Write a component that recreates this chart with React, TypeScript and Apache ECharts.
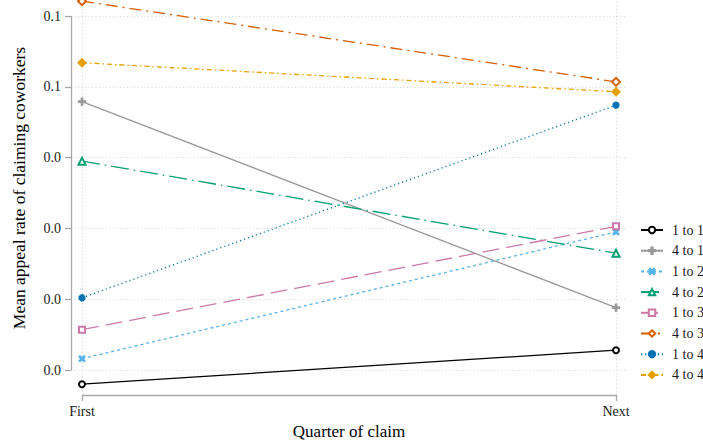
import { useEffect, useRef } from "react";
import * as echarts from "echarts";

// Quarter categories placed on a numeric x scale
const categories = ["First", "Next"];
const categoryPositions = [1, 2];

// Y ticks and their printed labels (one-decimal format)
const yTickValues = [0.01, 0.02, 0.03, 0.04, 0.05, 0.06];
const yTickLabels = ["0.0", "0.0", "0.0", "0.0", "0.1", "0.1"];

// Mean appeal rate per transition group, [First, Next]
const oneToOne = [0.008, 0.0128];
const fourToOne = [0.0479, 0.0188];
const oneToTwo = [0.0116, 0.0295];
const fourToTwo = [0.0395, 0.0265];
const oneToThree = [0.0157, 0.0303];
const fourToThree = [0.0621, 0.0507];
const oneToFour = [0.0202, 0.0474];
const fourToFour = [0.0534, 0.0493];

const X_MIN = 0.9794;
const X_MAX = 2.0206;
const Y_MIN = 0.00647;
const Y_MAX = 0.06226;

const FONT = "Liberation Serif";
const PLUS = "path://M4,0H6V4H10V6H6V10H4V6H0V4H4Z";

// Legend key placement
const LEGEND_LEFT = 640;
const LEGEND_FIRST_CENTER = 230;
const LEGEND_STEP = 20.7;
const LEGEND_LINE_HEIGHT = 14;

type Spec = {
  name: string;
  values: number[];
  color: string;
  dash: number[] | "solid";
  symbol: string;
  size: number;
  rotate?: number;
};

const specs: Spec[] = [
  { name: "1 to 1", values: oneToOne, color: "#000000", dash: "solid", symbol: "emptyCircle", size: 6 },
  { name: "4 to 1", values: fourToOne, color: "#999999", dash: "solid", symbol: PLUS, size: 7 },
  { name: "1 to 2", values: oneToTwo, color: "#56B4E9", dash: [3, 3], symbol: PLUS, size: 7, rotate: 45 },
  { name: "4 to 2", values: fourToTwo, color: "#009E73", dash: [18, 5, 1.5, 5], symbol: "emptyTriangle", size: 7 },
  { name: "1 to 3", values: oneToThree, color: "#CC79A7", dash: [17, 7], symbol: "emptyRect", size: 6 },
  { name: "4 to 3", values: fourToThree, color: "#D55E00", dash: [12, 5, 2, 5], symbol: "emptyDiamond", size: 8 },
  { name: "1 to 4", values: oneToFour, color: "#0072B2", dash: [1.2, 3], symbol: "circle", size: 6 },
  { name: "4 to 4", values: fourToFour, color: "#E69F00", dash: [5, 3, 1.5, 3], symbol: "diamond", size: 8 },
];

export default function App() {
  const ref = useRef<HTMLDivElement>(null);

  useEffect(() => {
    document.body.style.margin = "0";
    if (!ref.current) return;
    const chart = echarts.init(ref.current, undefined, { renderer: "svg" });

    const dataSeries = specs.map((s) => ({
      name: s.name,
      type: "line",
      data: categoryPositions.map((x, i) => [x, s.values[i]]),
      symbol: s.symbol,
      symbolSize: s.size,
      symbolRotate: s.rotate ?? 0,
      showSymbol: true,
      clip: false,
      z: 5,
      lineStyle: { color: s.color, width: 1.3, type: s.dash },
      itemStyle: { color: s.color, borderColor: s.color, borderWidth: 1.3 },
      emphasis: { disabled: true },
    }));

    const gridLine = {
      name: "grid",
      type: "line",
      data: [],
      z: 1,
      silent: true,
      markLine: {
        silent: true,
        symbol: "none",
        label: { show: false },
        lineStyle: { color: "#d4d4d4", width: 1, type: [1, 2.5] },
        data: [
          ...categoryPositions.map((x) => ({ xAxis: x })),
          ...yTickValues.map((y) => ({ yAxis: y })),
        ],
      },
    };

    const axisLines = {
      name: "axes",
      type: "line",
      data: [],
      z: 2,
      silent: true,
      markLine: {
        silent: true,
        symbol: "none",
        label: { show: false },
        lineStyle: { color: "#a8a8a8", width: 1.3, type: "solid" },
        data: [
          [
            { coord: [X_MIN, yTickValues[0]] },
            { coord: [X_MIN, yTickValues[yTickValues.length - 1]] },
          ],
          [
            { coord: [categoryPositions[0], Y_MIN] },
            { coord: [categoryPositions[categoryPositions.length - 1], Y_MIN] },
          ],
        ],
      },
    };

    // One legend block per series keeps the key rows evenly spaced
    const legends = specs.map((s, i) => ({
      orient: "vertical",
      left: LEGEND_LEFT,
      top: LEGEND_FIRST_CENTER + i * LEGEND_STEP - LEGEND_LINE_HEIGHT / 2,
      padding: 0,
      itemWidth: 22,
      itemHeight: 8,
      data: [s.name],
      textStyle: {
        fontFamily: FONT,
        fontSize: 14,
        color: "#1a1a1a",
        lineHeight: LEGEND_LINE_HEIGHT,
        overflow: "none",
        padding: [0, 0, 0, 4],
      },
      selectedMode: false,
    }));

    chart.setOption({
      animation: false,
      backgroundColor: "#ffffff",
      textStyle: { fontFamily: FONT },
      grid: { left: 71, right: 76, top: 0, bottom: 50, containLabel: false, outerBoundsMode: "none" },
      xAxis: {
        type: "value",
        min: X_MIN,
        max: X_MAX,
        name: "Quarter of claim",
        nameLocation: "middle",
        nameGap: 28,
        nameTextStyle: { fontFamily: FONT, fontSize: 17, color: "#000" },
        axisLine: { show: false },
        splitLine: { show: false },
        axisTick: {
          show: true,
          length: 6,
          customValues: categoryPositions,
          lineStyle: { color: "#a8a8a8", width: 1.3 },
        },
        axisLabel: {
          show: true,
          customValues: categoryPositions,
          margin: 9,
          fontFamily: FONT,
          fontSize: 14,
          color: "#1a1a1a",
          formatter: (v: number) => {
            const i = categoryPositions.findIndex((p) => Math.abs(p - v) < 1e-6);
            return i >= 0 ? categories[i] : "";
          },
        },
      },
      yAxis: {
        type: "value",
        min: Y_MIN,
        max: Y_MAX,
        name: "Mean appeal rate of claiming coworkers",
        nameLocation: "middle",
        nameGap: 43,
        nameTextStyle: {
          fontFamily: FONT,
          fontSize: 17.5,
          color: "#000",
          padding: [0, 0, 0, 19],
        },
        axisLine: { show: false },
        splitLine: { show: false },
        axisTick: {
          show: true,
          length: 6,
          customValues: yTickValues,
          lineStyle: { color: "#a8a8a8", width: 1.3 },
        },
        axisLabel: {
          show: true,
          customValues: yTickValues,
          margin: 10,
          fontFamily: FONT,
          fontSize: 14,
          color: "#1a1a1a",
          formatter: (v: number) => {
            const i = yTickValues.findIndex((p) => Math.abs(p - v) < 1e-9);
            return i >= 0 ? yTickLabels[i] : "";
          },
        },
      },
      legend: legends,
      tooltip: { show: false },
      series: [gridLine, axisLines, ...dataSeries],
    } as any);

    return () => chart.dispose();
  }, []);

  return <div ref={ref} style={{ width: 703, height: 445 }} />;
}
